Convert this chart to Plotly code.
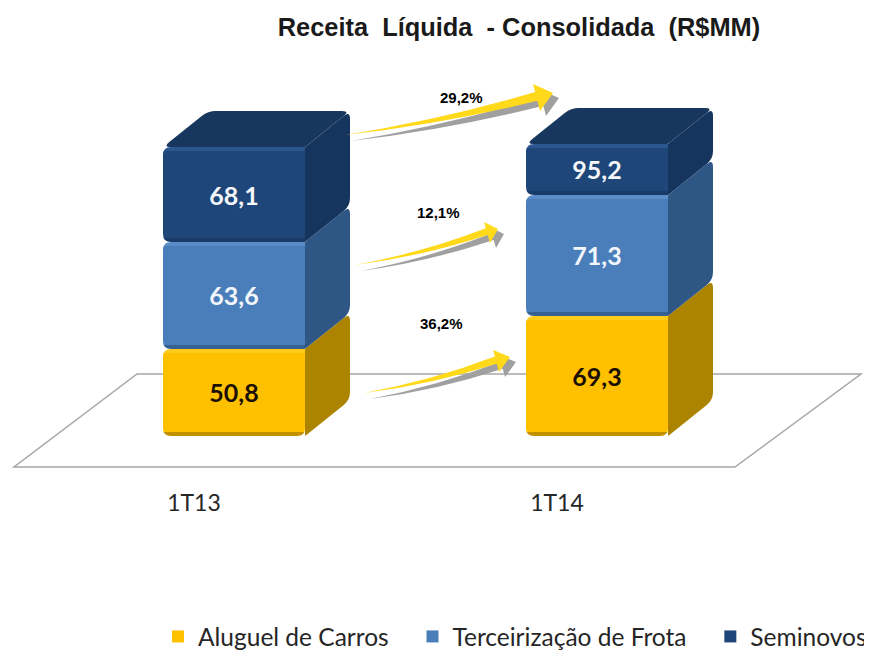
import math
import plotly.graph_objects as go

# ---------- data ----------
categories = ["1T13", "1T14"]
series_names = ["Aluguel de Carros", "Terceirização de Frota", "Seminovos"]
# Printed data labels
aluguel_labels = ["50,8", "69,3"]
terceirizacao_labels = ["63,6", "71,3"]
seminovos_labels = ["68,1", "95,2"]
# Segment heights as drawn in the picture (the original is not to scale with its labels)
aluguel_heights = [50.6, 69.8]
terceirizacao_heights = [62.2, 70.3]
seminovos_heights = [55.2, 29.7]
growth_labels = ["36,2%", "12,1%", "29,2%"]

# ---------- styles ----------
front_colors = ["#FFC000", "#4A7EBB", "#1E4679"]
side_colors = ["#AD8400", "#2F5785", "#16355E"]
top_color = "#17375F"
light_colors = ["#FFCB1A", "#5A8CC8", "#2B5690"]
dark_colors = ["#C29100", "#366292", "#173A68"]
text_colors = ["#1A0F00", "#F2F6FA", "#F5F7FA"]
LEGEND_PAD = "\u00a0\u00a0\u00a0"   # widens the gap between legend entries

PAGE_OFFSET = 8            # the page's own margin around the figure
W, H = 872 - PAGE_OFFSET, 652 - PAGE_OFFSET
PLOT_BOTTOM = 487 - PAGE_OFFSET
BASE_PX = 436 - PAGE_OFFSET
SY = 1.72          # px per value unit
CAT0_PX = 234 - PAGE_OFFSET
CAT_STEP = 363
BAR_W = 142 / CAT_STEP
x_range = [-CAT0_PX / CAT_STEP, (W - CAT0_PX) / CAT_STEP]
y_range = [-(PLOT_BOTTOM - BASE_PX) / SY, BASE_PX / SY]
DX, DY = 45 / CAT_STEP, 36 / SY


def ax(px):
    return (px - PAGE_OFFSET - CAT0_PX) / CAT_STEP


def ay(py):
    return (BASE_PX - (py - PAGE_OFFSET)) / SY


def rounded(pts, r):
    """Closed path through axis-coordinate points with corner radii r (px)."""
    n = len(pts)
    out = []
    for i, p in enumerate(pts):
        rad = r[i] if isinstance(r, (list, tuple)) else r
        prev, nxt = pts[i - 1], pts[(i + 1) % n]
        def toward(q):
            vx = (q[0] - p[0]) * CAT_STEP
            vy = (q[1] - p[1]) * SY
            d = math.hypot(vx, vy) or 1
            return (p[0] + vx / d * rad / CAT_STEP, p[1] + vy / d * rad / SY)
        a, b = toward(prev), toward(nxt)
        out.append(f"{'M' if i == 0 else 'L'}{a[0]:.5f},{a[1]:.3f}")
        out.append(f"Q{p[0]:.5f},{p[1]:.3f} {b[0]:.5f},{b[1]:.3f}")
    return " ".join(out) + " Z"


def shape(path, fill, layer="below"):
    return dict(type="path", path=path, fillcolor=fill, line=dict(width=0),
                xref="x", yref="y", layer=layer)


def corner_mask(cx, cy, sx, sy, r=8):
    """White mask rounding a front-face corner at (cx,cy); sx,sy point into the bar."""
    rx, ry = r / CAT_STEP, r / SY
    return shape(
        f"M{cx:.5f},{cy:.3f} L{cx + sx * rx:.5f},{cy:.3f} "
        f"Q{cx:.5f},{cy:.3f} {cx:.5f},{cy + sy * ry:.3f} Z",
        "#FFFFFF", "above")


shapes = []
# Floor
floor = [(137, 374), (861, 374), (735, 467), (14, 467)]
shapes.append(dict(
    type="path",
    path="M" + " L".join(f"{ax(a):.5f},{ay(b):.3f}" for a, b in floor) + " Z",
    fillcolor="#FFFFFF", line=dict(color="#A6A6A6", width=1.5),
    xref="x", yref="y", layer="below"))

heights = [aluguel_heights, terceirizacao_heights, seminovos_heights]
for i in range(len(categories)):
    x0, x1 = i - BAR_W / 2, i + BAR_W / 2
    base = 0.0
    for s, hs in enumerate(heights):
        h = hs[i]
        top = base + h
        # side face
        shapes.append(shape(rounded(
            [(x1, base), (x1 + DX, base + DY), (x1 + DX, top + DY), (x1, top)],
            [1, 8, 8, 1]), side_colors[s]))
        # top face of the stack
        if s == len(heights) - 1:
            shapes.append(shape(rounded(
                [(x0, top), (x0 + DX, top + DY), (x1 + DX, top + DY), (x1, top)],
                [8, 8, 8, 1]), top_color))
        # bevels on the front face
        band = 4 / SY
        shapes.append(shape(f"M{x0},{top} L{x1},{top} L{x1},{top - band} L{x0},{top - band} Z",
                            light_colors[s], "above"))
        shapes.append(shape(f"M{x0},{base} L{x1},{base} L{x1},{base + band} L{x0},{base + band} Z",
                            dark_colors[s], "above"))
        # rounded corners
        shapes.append(corner_mask(x0, top, 1, -1))
        shapes.append(corner_mask(x0, base, 1, 1))
        if s == 0:
            shapes.append(corner_mask(x1, base, -1, 1))
        base = top


def arrow(tail, tip, b1, b2, fill, bow=6):
    j1 = (b1[0] + (b2[0] - b1[0]) * 0.30, b1[1] + (b2[1] - b1[1]) * 0.30)
    j2 = (b1[0] + (b2[0] - b1[0]) * 0.62, b1[1] + (b2[1] - b1[1]) * 0.62)
    def ctrl(j, extra):
        return ((tail[0] + j[0]) / 2 + extra * 0.35, (tail[1] + j[1]) / 2 + extra)
    c1, c2 = ctrl(j1, bow), ctrl(j2, bow)
    P = lambda q: f"{ax(q[0]):.5f},{ay(q[1]):.3f}"
    return shape(
        f"M{P(tail)} Q{P(c1)} {P(j1)} L{P(b1)} L{P(tip)} L{P(b2)} L{P(j2)} Q{P(c2)} {P(tail)} Z",
        fill, "above")


arrows = [
    ((345, 135), (553, 93), (533, 84), (540, 111)),
    ((355, 265), (498, 229), (484, 222), (490, 243)),
    ((364, 393), (510, 357), (493, 350), (499, 372)),
]
for tail, tip, b1, b2 in arrows:
    off = lambda q: (q[0] + 6, q[1] + 5)
    shapes.append(arrow((tail[0] + 6, tail[1] + 6), off(tip), off(b1), off(b2), "#A0A0A0"))
for tail, tip, b1, b2 in arrows:
    shapes.append(arrow(tail, tip, b1, b2, "#FFD91A"))

fig = go.Figure()
for k, (name, hs, labels, color, tc) in enumerate(zip(
        series_names, heights,
        [aluguel_labels, terceirizacao_labels, seminovos_labels],
        front_colors, text_colors)):
    shown = name + LEGEND_PAD if k < len(series_names) - 1 else name
    fig.add_bar(name=shown, x=categories, y=hs, text=labels, width=BAR_W,
                marker=dict(color=color, line=dict(width=0)),
                textposition="inside", insidetextanchor="middle", textangle=0,
                insidetextfont=dict(family="Lato", size=25, color=tc, weight="bold"),
                hoverinfo="skip")

growth_pos = [(441, 323), (438, 212), (461, 97)]
annotations = [
    dict(text=t, x=ax(a), y=ay(b), xref="x", yref="y", showarrow=False,
         xanchor="center", yanchor="middle",
         font=dict(family="Liberation Sans", size=15, color="#000000", weight="bold"))
    for t, (a, b) in zip(growth_labels, growth_pos)
]

fig.update_layout(
    width=W, height=H, autosize=False,
    barmode="stack", shapes=shapes, annotations=annotations,
    margin=dict(l=0, r=0, t=0, b=H - PLOT_BOTTOM, pad=0, autoexpand=False),
    paper_bgcolor="#FFFFFF", plot_bgcolor="#FFFFFF",
    title=dict(text="Receita  Líquida  - Consolidada  (R$MM)",
               x=(519 - PAGE_OFFSET) / W, y=1 - (27 - PAGE_OFFSET) / H,
               xanchor="center", yanchor="middle",
               xref="paper", yref="container",
               font=dict(family="Liberation Sans", size=25.4, color="#1A1A1A", weight="bold")),
    xaxis=dict(type="category", range=x_range, showgrid=False, zeroline=False,
               showline=False, ticks="", ticklabelshift=-40, ticklabelstandoff=0,
               tickfont=dict(family="Lato", size=23, color="#262626")),
    yaxis=dict(range=y_range, visible=False, showgrid=False, zeroline=False),
    legend=dict(orientation="h", x=(158 - PAGE_OFFSET) / W, xanchor="left",
                y=(PLOT_BOTTOM - (614 - PAGE_OFFSET)) / PLOT_BOTTOM, yanchor="top",
                font=dict(family="Lato", size=24.5, color="#262626"),
                itemwidth=30, traceorder="normal", bgcolor="rgba(0,0,0,0)"),
)

fig.write_html("out.html")
